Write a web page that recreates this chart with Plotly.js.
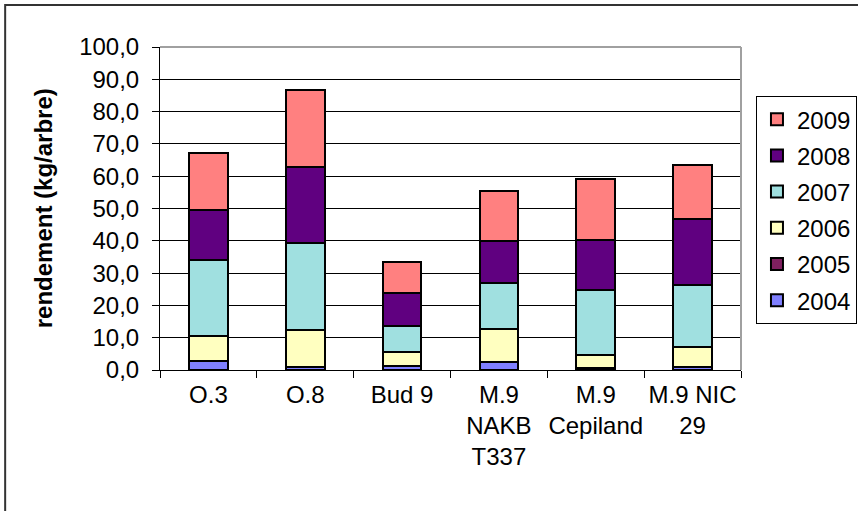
<!DOCTYPE html>
<html>
<head>
<meta charset="utf-8">
<script src="https://cdn.plot.ly/plotly-3.0.1.min.js"></script>
<style>html,body{margin:0;padding:0;background:#fff;}#chart{width:858px;height:511px;}</style>
</head>
<body>
<div id="chart"></div>
<script>
var categories = ["O.3", "O.8", "Bud 9", "M.9<br>NAKB<br>T337", "M.9<br>Cepiland", "M.9 NIC<br>29"];
var years = ["2004", "2005", "2006", "2007", "2008", "2009"];
var v2004 = [2.7, 1.0, 1.3, 2.4, 0.4, 1.0];
var v2005 = [null, null, null, null, 0.3, null];
var v2006 = [7.8, 11.5, 4.2, 10.4, 3.8, 6.2];
var v2007 = [23.5, 26.9, 8.1, 14.2, 20.3, 19.1];
var v2008 = [15.4, 23.6, 10.1, 13.0, 15.4, 20.5];
var v2009 = [17.9, 23.7, 9.6, 15.3, 18.9, 16.6];
var colors = ["#8080FF", "#802060", "#FFFFC0", "#A0E0E0", "#600080", "#FF8080"];
var series = [v2004, v2005, v2006, v2007, v2008, v2009];

var FONT = "Arial, 'Liberation Sans', sans-serif";
var traces = series.map(function (vals, i) {
  return {
    type: "bar",
    name: years[i],
    x: categories,
    y: vals,
    legendgroup: years[i],
    legendrank: 1000 - i * 10,
    marker: { color: colors[i], line: { color: "#000000", width: 2 } },
    hoverinfo: "x+y+name"
  };
});

var layout = {
  width: 858,
  height: 511,
  margin: { l: 160, r: 117, t: 47, b: 141 },
  paper_bgcolor: "#ffffff",
  plot_bgcolor: "#ffffff",
  separators: ", ",
  barmode: "stack",
  bargap: 0.6,
  font: { family: FONT, size: 24, color: "#000000" },
  showlegend: true,
  legend: {
    xref: "container", x: 0.9988, y: 0.848, xanchor: "right", yanchor: "top",
    bordercolor: "#000000", borderwidth: 1, bgcolor: "#ffffff",
    traceorder: "grouped", tracegroupgap: 2,
    font: { family: FONT, size: 24, color: "#000000" }
  },
  xaxis: {
    type: "category",
    showline: true, linecolor: "#000000", linewidth: 1,
    ticks: "outside", tickson: "boundaries", ticklen: 7, tickcolor: "#000000",
    tickangle: 0, ticklabelstandoff: 3,
    tickfont: { family: FONT, size: 24 },
    showgrid: false, zeroline: false, fixedrange: true
  },
  yaxis: {
    range: [0, 100], dtick: 10, tickformat: ".1f",
    showline: true, linecolor: "#000000", linewidth: 1,
    ticks: "outside", ticklen: 7, tickcolor: "#000000",
    tickfont: { family: FONT, size: 24 },
    ticklabelstandoff: 8,
    showgrid: true, gridcolor: "#000000", gridwidth: 1,
    zeroline: false, fixedrange: true
  },
  annotations: [{
    text: "<b>rendement (kg/arbre)</b>",
    xref: "paper", yref: "paper", x: -0.2, y: 0.5,
    xanchor: "center", yanchor: "middle", textangle: -90, showarrow: false,
    font: { family: FONT, size: 24, color: "#000000" }
  }],
  shapes: [
    { type: "rect", xref: "paper", yref: "paper", x0: -0.2665, x1: 1.4, y0: -0.6, y1: 1.130,
      line: { color: "#333333", width: 2 }, fillcolor: "rgba(0,0,0,0)", layer: "below" },
    { type: "line", xref: "paper", yref: "paper", x0: 0, x1: 1, y0: 1, y1: 1,
      line: { color: "#a0a0a0", width: 2 }, layer: "above" },
    { type: "line", xref: "paper", yref: "paper", x0: 1, x1: 1, y0: 0, y1: 1,
      line: { color: "#a0a0a0", width: 2 }, layer: "above" }
  ]
};

Plotly.newPlot("chart", traces, layout, { displayModeBar: false, staticPlot: true });
</script>
</body>
</html>
